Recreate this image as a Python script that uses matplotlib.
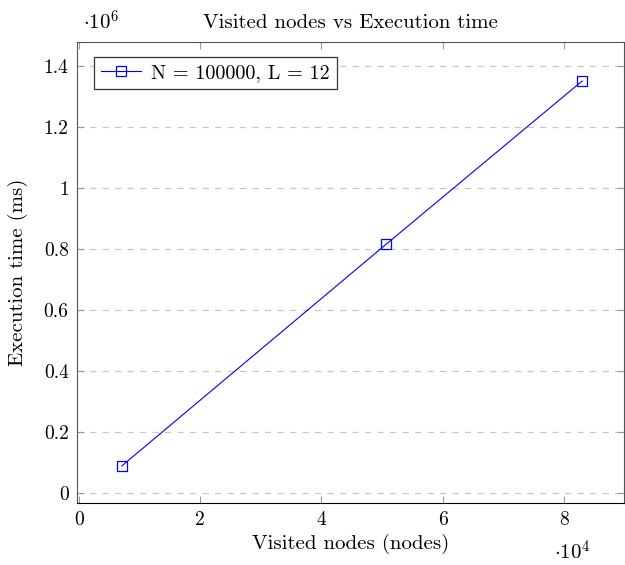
import matplotlib
matplotlib.use("Agg")
import matplotlib.pyplot as plt
from matplotlib.ticker import FuncFormatter

plt.rcParams['font.family'] = 'serif'
plt.rcParams['font.serif'] = ['cmr10', 'DejaVu Serif']
plt.rcParams['mathtext.fontset'] = 'cm'
plt.rcParams['axes.unicode_minus'] = False

# data
visited_nodes = [7080, 50700, 83000]
exec_time_ms = [88500, 816000, 1351000]
series_label = 'N = 100000, L = 12'

x_ticks = [0, 20000, 40000, 60000, 80000]
y_ticks = [0, 200000, 400000, 600000, 800000, 1000000, 1200000, 1400000]


def fmt(v):
    s = ('%.1f' % v).rstrip('0').rstrip('.')
    return s


fig = plt.figure(figsize=(6.25, 5.65), dpi=100)
ax = fig.add_axes([0.1232, 0.1097, 0.8752, 0.816])

ax.plot(visited_nodes, exec_time_ms, color='blue', linewidth=0.8,
        marker='s', markersize=7, markerfacecolor='none',
        markeredgecolor='blue', markeredgewidth=0.9, label=series_label)

ax.set_xlim(-300, 89900)
ax.set_ylim(-33000, 1479000)
ax.set_xticks(x_ticks)
ax.set_yticks(y_ticks)
ax.xaxis.set_major_formatter(FuncFormatter(lambda v, p: fmt(v / 1e4)))
ax.yaxis.set_major_formatter(FuncFormatter(lambda v, p: fmt(v / 1e6)))

ax.tick_params(direction='in', top=True, right=True, length=5,
               color='#999999', labelsize=14, pad=6)
ax.grid(axis='y', linestyle=(0, (5, 5)), color='#c8c8c8', linewidth=0.9)
ax.set_axisbelow(True)
for side in ['top', 'left', 'right']:
    ax.spines[side].set_color('#555555')
ax.spines['bottom'].set_color('black')

ax.set_title('Visited nodes vs Execution time', fontsize=15, pad=10)
ax.set_xlabel('Visited nodes (nodes)', fontsize=15, labelpad=3)
ax.set_ylabel('Execution time (ms)', fontsize=15, labelpad=11)

fig.text(101 / 625, 1 - 22 / 565, r'$\cdot 10^6$', fontsize=15,
         ha='center', va='center')
fig.text(572 / 625, 1 - 552 / 565, r'$\cdot 10^4$', fontsize=15,
         ha='center', va='center')

leg = ax.legend(loc='upper left', fontsize=14.5, frameon=True, fancybox=False,
                edgecolor='#333333', framealpha=1, handlelength=2.0,
                handletextpad=0.5, borderpad=0.35, borderaxespad=0,
                bbox_to_anchor=(0.031, 0.968))
leg.get_frame().set_linewidth(0.9)

fig.savefig('out.png', dpi=100)
